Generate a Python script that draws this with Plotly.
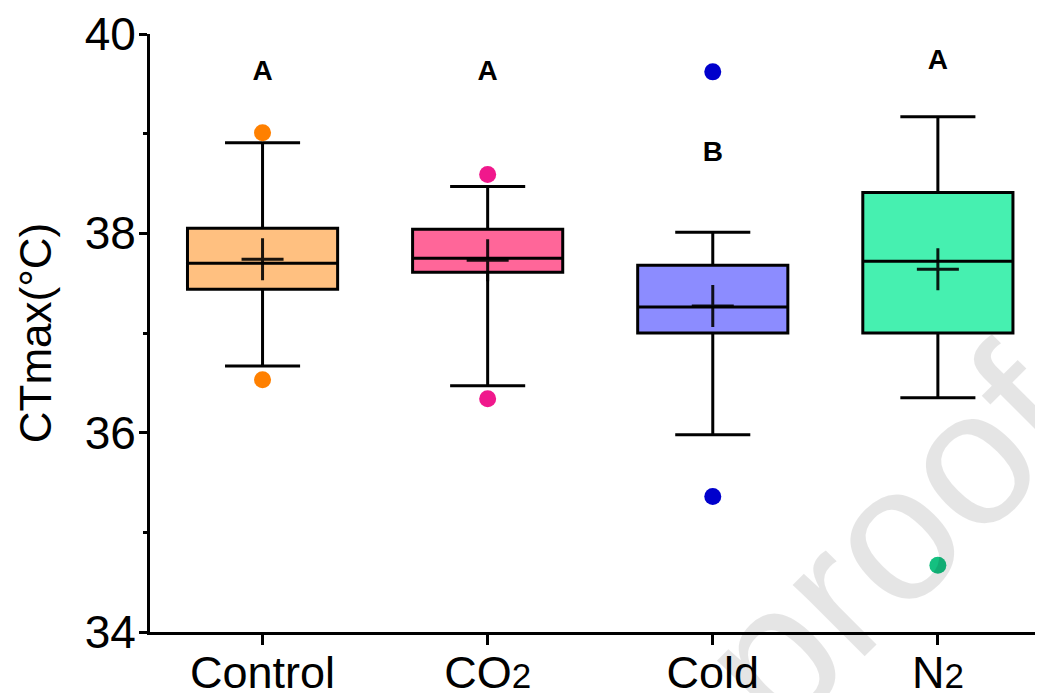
import plotly.graph_objects as go

# ---- data ----
categories = ["Control", "CO2", "Cold", "N2"]
tick_labels = ["Control",
               'CO<span style="font-size:35px">2</span>',
               "Cold",
               'N<span style="font-size:35px">2</span>']
q1_vals = [37.44, 37.61, 37.00, 37.00]
median_vals = [37.70, 37.75, 37.26, 37.72]
q3_vals = [38.05, 38.04, 37.68, 38.41]
lower_vals = [36.67, 36.47, 35.98, 36.35]
upper_vals = [38.91, 38.47, 38.01, 39.17]
mean_vals = [37.74, 37.73, 37.27, 37.64]

outlier_group = [0, 0, 1, 1, 2, 2, 3]
outlier_vals = [39.01, 36.53, 38.59, 36.34, 39.62, 35.36, 34.67]

letters = ["A", "A", "B", "A"]
letter_y = [39.61, 39.61, 38.80, 39.72]

fill_colors = ["#FFC080", "#FF6699", "#8C8CFF", "#46F0B0"]
point_colors = ["#FF8000", "#F0188C", "#0000CC", "#14C080"]

FONT = "Liberation Sans, Arial, sans-serif"

fig = go.Figure()

for i, cat in enumerate(categories):
    fig.add_trace(go.Box(
        x=[i], q1=[q1_vals[i]], median=[median_vals[i]], q3=[q3_vals[i]],
        lowerfence=[lower_vals[i]], upperfence=[upper_vals[i]],
        name=cat, width=0.667, whiskerwidth=0.5,
        fillcolor=fill_colors[i], line=dict(color="black", width=3),
        boxpoints=False, showlegend=False, hoverinfo="skip",
    ))

# means
fig.add_trace(go.Scatter(
    x=list(range(len(categories))), y=mean_vals, mode="markers",
    marker=dict(symbol="cross-thin", size=30,
                line=dict(color="rgba(0,0,0,0.9)", width=3)),
    showlegend=False, hoverinfo="skip",
))

# outliers
fig.add_trace(go.Scatter(
    x=outlier_group, y=outlier_vals, mode="markers",
    marker=dict(size=17, color=[point_colors[g] for g in outlier_group]),
    showlegend=False, hoverinfo="skip",
))

# significance letters
fig.add_trace(go.Scatter(
    x=list(range(len(categories))), y=letter_y, mode="text",
    text=["<b>%s</b>" % t for t in letters],
    textfont=dict(family=FONT, size=28, color="black"),
    textposition="middle center",
    showlegend=False, hoverinfo="skip",
))

# watermark
fig.add_annotation(
    text="proof", xref="paper", yref="paper", x=0.826, y=0.154,
    xanchor="center", yanchor="middle",
    showarrow=False, textangle=-45,
    font=dict(family=FONT, size=192, color="rgba(0,0,0,0.1)"),
)

fig.update_layout(
    width=1043, height=693,
    margin=dict(l=142, r=8, t=26, b=69, autoexpand=False),
    plot_bgcolor="white", paper_bgcolor="white",
    font=dict(family=FONT, color="black"),
    xaxis=dict(
        range=[-0.5, 3.467], tickmode="array",
        tickvals=list(range(len(categories))), ticktext=tick_labels,
        showgrid=False, zeroline=False, automargin=False,
        showline=True, linecolor="black", linewidth=3,
        ticks="outside", ticklen=10, tickwidth=3, tickcolor="black",
        tickfont=dict(family=FONT, size=45, color="black"),
        ticklabelstandoff=-11,
    ),
    yaxis=dict(
        range=[34, 40], tickvals=[34, 36, 38, 40],
        showgrid=False, zeroline=False, automargin=False,
        showline=True, linecolor="black", linewidth=3,
        ticks="outside", ticklen=8, tickwidth=3, tickcolor="black",
        tickfont=dict(family=FONT, size=46, color="black"),
        ticklabelstandoff=-6,
        minor=dict(dtick=1, ticks="outside", ticklen=4, tickwidth=3,
                   tickcolor="black", showgrid=False),
        title=dict(text="CTmax(°C)", font=dict(family=FONT, size=44, color="black"),
                   standoff=20),
    ),
)

fig.write_html("out.html")
